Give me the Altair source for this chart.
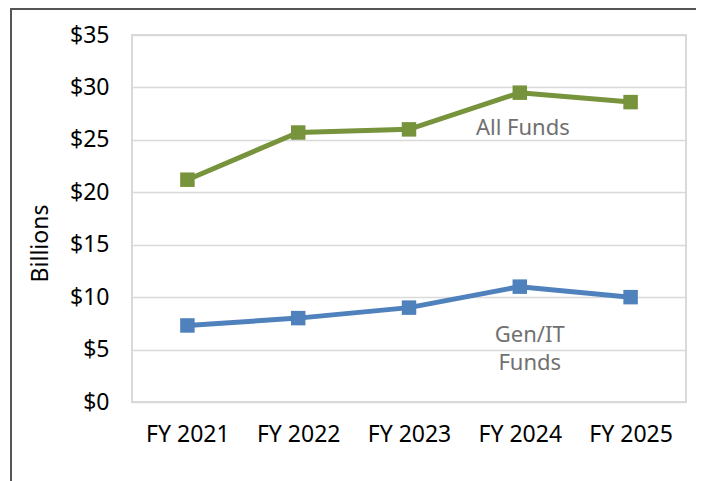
import altair as alt
import pandas as pd

years = ["FY 2021", "FY 2022", "FY 2023", "FY 2024", "FY 2025"]
all_funds = [21.2, 25.7, 26.0, 29.5, 28.6]
gen_it_funds = [7.3, 8.0, 9.0, 11.0, 10.0]
series_names = ["All Funds", "Gen/IT Funds"]
series_colors = ["#77933C", "#4F81BD"]

label_text = ["All Funds", "Gen/IT\nFunds"]
label_x = ["FY 2024", "FY 2024"]
label_y = [26.1, 6.4]

rows = []
for y, a, g in zip(years, all_funds, gen_it_funds):
    rows.append({"year": y, "value": a, "series": series_names[0]})
    rows.append({"year": y, "value": g, "series": series_names[1]})
df = pd.DataFrame(rows)
ann = pd.DataFrame({"text": label_text, "year": label_x, "value": label_y})

FONT = "Noto Sans"
W, H = 554, 367

x_enc = alt.X(
    "year:N", sort=years,
    scale=alt.Scale(paddingInner=0, paddingOuter=0),
    axis=alt.Axis(title=None, labelAngle=0, labelFontSize=23, labelFont=FONT,
                  labelColor="#000000", labelPadding=21, ticks=False, domain=False, grid=False),
)
y_enc = alt.Y(
    "value:Q",
    scale=alt.Scale(domain=[0, 35], nice=False),
    axis=alt.Axis(title="Billions", titleFont=FONT, titleFontSize=23, titleFontWeight="normal",
                  titleColor="#000000", titleX=-80, titleY=208, titleAngle=270,
                  titleAlign="center", titleBaseline="bottom",
                  values=[0, 5, 10, 15, 20, 25, 30, 35], labelExpr="'$' + datum.value",
                  labelFontSize=23, labelFont=FONT, labelColor="#000000", labelPadding=23,
                  ticks=False, domain=False, gridColor="#d9d9d9", gridWidth=1.5),
)
color_enc = alt.Color("series:N", scale=alt.Scale(domain=series_names, range=series_colors), legend=None)

base = alt.Chart(df)
lines = base.mark_line(strokeWidth=5).encode(x=x_enc, y=y_enc, color=color_enc)
points = base.mark_square(size=210, opacity=1, filled=True).encode(x=x_enc, y=y_enc, color=color_enc)

labels_all = alt.Chart(ann.iloc[[0]]).mark_text(
    font=FONT, fontSize=22, color="#707070", align="center", baseline="middle", dx=3
).encode(x=alt.X("year:N", sort=years), y="value:Q", text="text:N")
labels_gen = alt.Chart(ann.iloc[[1]]).mark_text(
    font=FONT, fontSize=22, color="#707070", align="center", baseline="middle", dx=10,
    lineBreak="\n", lineHeight=28
).encode(x=alt.X("year:N", sort=years), y="value:Q", text="text:N")

border_top = alt.Chart(pd.DataFrame({"d": [0]})).mark_rule(color="#555555", strokeWidth=2).encode(
    x=alt.value(-121), x2=alt.value(580), y=alt.value(-26))
border_left = alt.Chart(pd.DataFrame({"d": [0]})).mark_rule(color="#555555", strokeWidth=2).encode(
    x=alt.value(-121), y=alt.value(-27), y2=alt.value(460))

chart = alt.layer(lines, points, labels_all, labels_gen, border_top, border_left).properties(
    width=W, height=H,
    background="white",
    autosize=alt.AutoSizeParams(type="none"),
    padding={"left": 124, "top": 27, "right": 10, "bottom": 80},
).configure_view(stroke="#d9d9d9", strokeWidth=2)

chart.save("out.html", embed_options={"renderer": "svg", "actions": False})
